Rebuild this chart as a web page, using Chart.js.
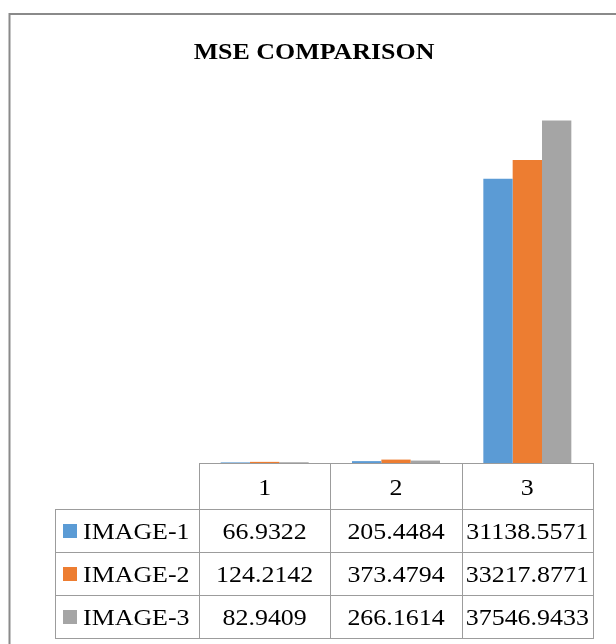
<!DOCTYPE html>
<html>
<head>
<meta charset="utf-8">
<script src="https://cdn.jsdelivr.net/npm/chart.js@4"></script>
<style>
  html, body { margin: 0; padding: 0; background: #ffffff; }
  canvas { display: block; }
</style>
</head>
<body>
<canvas id="chart" width="616" height="644"></canvas>
<script>
// MSE values per test image, for each of the three runs
const categories = ['1', '2', '3'];
const image1 = [66.9322, 205.4484, 31138.5571];
const image2 = [124.2142, 373.4794, 33217.8771];
const image3 = [82.9409, 266.1614, 37546.9433];
const seriesNames = ['IMAGE-1', 'IMAGE-2', 'IMAGE-3'];
const seriesValues = [image1, image2, image3];
const seriesColors = ['#5b9bd5', '#ed7d31', '#a5a5a5'];
const titleText = 'MSE COMPARISON';

const SERIF = '"Liberation Serif", serif';
const STRETCH = 1.08;

function drawText(ctx, text, x, y, align) {
  ctx.save();
  ctx.translate(x, y);
  ctx.scale(STRETCH, 1);
  ctx.textAlign = align;
  ctx.textBaseline = 'alphabetic';
  ctx.fillText(text, 0, 0);
  ctx.restore();
}

// Outer frame, title and the data table under the plot
const frameAndTable = {
  id: 'frameAndTable',
  afterDraw(chart) {
    const ctx = chart.ctx;
    const area = chart.chartArea;
    const xs = chart.scales.x;
    const colW = area.width / categories.length;

    ctx.save();
    // frame
    ctx.strokeStyle = '#8a8a8a';
    ctx.lineWidth = 2;
    ctx.beginPath();
    ctx.moveTo(9.5, 700);
    ctx.lineTo(9.5, 14);
    ctx.lineTo(700, 14);
    ctx.stroke();

    // title
    ctx.fillStyle = '#000000';
    ctx.font = 'bold 24px ' + SERIF;
    drawText(ctx, titleText, 314, 58.5, 'center');

    // table rows
    const top = Math.round(area.bottom);
    const rows = [top, top + 46, top + 89, top + 132, top + 175];
    const legendLeft = 55;
    const colEdges = [];
    for (let i = 0; i <= categories.length; i++) {
      colEdges.push(Math.round(area.left + i * colW));
    }
    const right = colEdges[colEdges.length - 1];

    ctx.strokeStyle = '#9c9c9c';
    ctx.lineWidth = 1;
    ctx.beginPath();
    ctx.moveTo(colEdges[0], rows[0] + 0.5);
    ctx.lineTo(right, rows[0] + 0.5);
    for (let r = 1; r < rows.length; r++) {
      ctx.moveTo(legendLeft, rows[r] + 0.5);
      ctx.lineTo(right, rows[r] + 0.5);
    }
    colEdges.forEach(cx => {
      ctx.moveTo(cx + 0.5, rows[0]);
      ctx.lineTo(cx + 0.5, rows[rows.length - 1] + 1);
    });
    ctx.moveTo(legendLeft + 0.5, rows[1]);
    ctx.lineTo(legendLeft + 0.5, rows[rows.length - 1] + 1);
    ctx.stroke();

    ctx.font = '24px ' + SERIF;
    ctx.fillStyle = '#000000';
    categories.forEach((c, i) => {
      const cx = xs.getPixelForValue(i);
      drawText(ctx, c, cx, (rows[0] + rows[1]) / 2 + 8.5, 'center');
    });
    seriesNames.forEach((name, s) => {
      const cy = (rows[s + 1] + rows[s + 2]) / 2;
      ctx.fillStyle = seriesColors[s];
      ctx.fillRect(63, Math.round(cy - 7), 14, 14);
      ctx.fillStyle = '#000000';
      drawText(ctx, name, 83, cy + 8.5, 'left');
      seriesValues[s].forEach((v, i) => {
        const cx = xs.getPixelForValue(i);
        drawText(ctx, v.toFixed(4), cx, cy + 8.5, 'center');
      });
    });
    ctx.restore();
  }
};

function build() {
  new Chart(document.getElementById('chart'), {
    type: 'bar',
    data: {
      labels: categories,
      datasets: seriesNames.map((name, s) => ({
        label: name,
        data: seriesValues[s],
        backgroundColor: seriesColors[s],
        borderWidth: 0,
        categoryPercentage: 0.67,
        barPercentage: 1.0
      }))
    },
    options: {
      responsive: false,
      animation: false,
      layout: { padding: { left: 199, right: 23, top: 98, bottom: 181 } },
      plugins: {
        legend: { display: false },
        title: { display: false },
        tooltip: { enabled: false }
      },
      scales: {
        x: { display: false },
        y: { display: false, min: 0, max: 40000 }
      }
    },
    plugins: [frameAndTable]
  });
}

Promise.all([
  document.fonts.load('24px "Liberation Serif"'),
  document.fonts.load('bold 24px "Liberation Serif"')
]).then(build, build);
</script>
</body>
</html>
